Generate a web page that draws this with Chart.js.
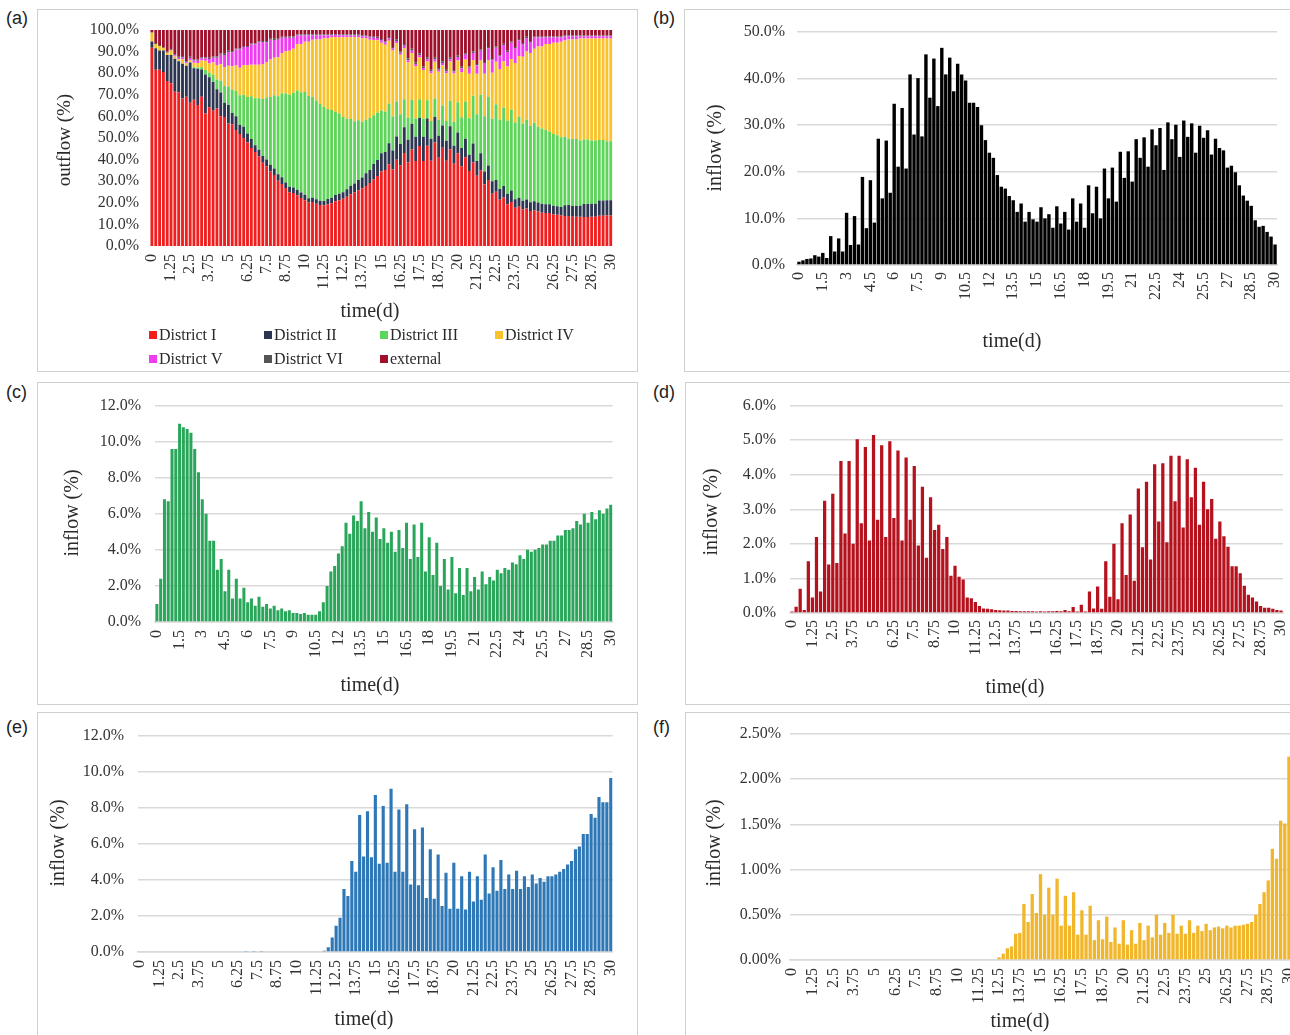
<!DOCTYPE html>
<html>
<head>
<meta charset="utf-8">
<script src="https://cdn.jsdelivr.net/npm/chart.js@4.4.1/dist/chart.umd.min.js"></script>
<style>
  html, body { margin: 0; padding: 0; background: #fff; }
  body { width: 1290px; height: 1035px; overflow: hidden; position: relative; }
  .frame { position: absolute; border: 1px solid #cfcfcf; box-sizing: border-box; }
  .tag { position: absolute; font-family: 'Liberation Sans', Arial, sans-serif; font-size: 18px; color: #222; line-height: 1; }
  canvas { position: absolute; }
</style>
</head>
<body>
<script>
// ---------- time axis (days, 6-hour steps) ----------
const timeSteps = [0,0.25,0.5,0.75,1,1.25,1.5,1.75,2,2.25,2.5,2.75,3,3.25,3.5,3.75,4,4.25,4.5,4.75,
  5,5.25,5.5,5.75,6,6.25,6.5,6.75,7,7.25,7.5,7.75,8,8.25,8.5,8.75,9,9.25,9.5,9.75,
  10,10.25,10.5,10.75,11,11.25,11.5,11.75,12,12.25,12.5,12.75,13,13.25,13.5,13.75,14,14.25,14.5,14.75,
  15,15.25,15.5,15.75,16,16.25,16.5,16.75,17,17.25,17.5,17.75,18,18.25,18.5,18.75,19,19.25,19.5,19.75,
  20,20.25,20.5,20.75,21,21.25,21.5,21.75,22,22.25,22.5,22.75,23,23.25,23.5,23.75,24,24.25,24.5,24.75,
  25,25.25,25.5,25.75,26,26.25,26.5,26.75,27,27.25,27.5,27.75,28,28.25,28.5,28.75,29,29.25,29.5,29.75,30];

// tick labels printed under the bars
const ticksQuarter = ['0','1.25','2.5','3.75','5','6.25','7.5','8.75','10','11.25','12.5','13.75','15',
  '16.25','17.5','18.75','20','21.25','22.5','23.75','25','26.25','27.5','28.75','30'];
const ticksHalf = ['0','1.5','3','4.5','6','7.5','9','10.5','12','13.5','15','16.5','18','19.5',
  '21','22.5','24','25.5','27','28.5','30'];

// ---------- (a) outflow shares by destination ----------
const districtI = [92,82,82,81,76,75,70,69,68,67, 64,65,62,66,58,60,56,57,55,54,
  53,52,50.5,49,47.5,45.5,43.7,42,40,38, 36,34,32,30,28,26,24.5,24,23,22,
  21,20,20,19.5,19,19,19.5,20,21,21, 22,23,24,25,26,27,28,29,30,31,
  33,34,35,36,37,38,40,41,41,42, 43,42,44,43,45,44,44,43,42,41,
  40,39,38,37,35,33,31,29,27,25, 23,22,21,20,19,18,17.5,17,16.5,16,
  16,15.5,15,15,15,14.5,14.5,14,14,14, 13.5,13.5,13.5,13.5,13.5,13.5,13.5,14,14,14,14];
const districtII = [3,10,9,10,12,13,15,14,16,14, 18,14,16,12,17,13,12,8,10,6,
  8,5,6,4,5,4,4,3,3,3, 3,3,3,3,3,2.5,2.5,2.5,2.5,2.5,
  2.5,2,2,2,2,2,2.5,2.5,3,3, 3,3.5,4,4,5,5,6,6,7,7,
  8,8,9,9,10,10,11,11,11,12, 12,12,12,11,11,11,10,10,10,9,
  9,9,8,8,8,7,7,6,6,6, 5,5,5,5,5,4,4,4,4,4,
  4,4,4,4,4,4,4,4,5,5, 5,5,5,6,6,6,6,7,7,7,7];
const districtIII = [0,0,0,0,0,0,0,0,0,0, 0,0.5,0.5,1,2,2,3,4,5,7,
  8,10,11,13,14,16,19,21,23,26, 28,31,33,36,38,40,42,43,45,46,
  47,47,46,45.5,45,44,42,41,39,37, 35,33,31,29,28,26,25,24,22,21,
  19,18,17,16,15,14,12,11,10,9, 8,9,8,9,8,8,9,10,11,12,
  13,15,16,18,20,22,24,26,28,30, 32,33,34,35,35,36,36,36,35,35,
  35,34,34,34,33,33,33,32,32,31, 31,31,30,30,30,29,29,28,28,27,27];
const districtIV = [4,2,2,1,1,2,1,1,2,1, 1,2,2,3,4,4,5,6,7,8,
  9,10,11,12,13,14,14,15,15,16, 16,17,17,18,18,19,20,20,21,22,
  23,25,26,28,30,32,33,34,35,35, 37,38,38,39,39,39,38,36,34,32,
  30,30,27,31,25,28,22,27,20,26, 18,24,17,24,16,24,18,24,17,24,
  18,22,18,22,15,19,14,20,15,22, 18,24,20,26,22,28,27,31,30,33,
  33,36,37,39,40,42,43,44,45,46, 46,46,47,47,47,47,47,47,47,47,47];
const districtV = [0,0,0,0,0,0,0.5,0.5,1,0.5, 1,1,1,1,1,2,2,3,4,5,
  6,6,7,8,8,8,9,9,10,10, 9,9,8,8,7,6,6,5,4,4,
  3,3,2,2,2,1.5,1.5,1,1,1, 1,1,1,1,1,1,1,1,1,1,
  1,1,1,1,1,1,1,1,1,1, 1,1,1,1,1,1,1,1,1,1,
  1.5,2,2,3,3,4,4,5,5,6, 6,6,7,7,7,7,7,6,6,5,
  5,4,4,3,3,2.5,2.5,2,2,1.5, 1.5,1.5,1,1,1,1,1,1,1,1,1];
const districtVI = [0.3,0.5,0.5,0.5,0.5,0.5,0.5,0.5,0.5,0.5, 0.5,0.5,0.5,0.5,0.5,0.5,0.5,0.5,0.5,0.5,
  0.5,0.5,0.5,0.5,0.5,0.5,0.5,0.5,0.5,0.5, 0.5,0.5,0.5,0.5,0.5,0.5,0.5,0.5,0.5,0.5,
  0.4,0.4,0.4,0.4,0.4,0.4,0.4,0.4,0.4,0.4, 0.4,0.4,0.4,0.4,0.4,0.4,0.4,0.5,0.5,0.5,
  0.6,0.6,0.6,0.7,0.7,0.7,0.8,0.8,0.8,0.8, 0.8,0.8,0.8,0.8,0.8,0.8,0.8,0.8,0.7,0.7,
  0.7,0.7,0.6,0.6,0.6,0.6,0.5,0.5,0.5,0.5, 0.5,0.5,0.5,0.5,0.5,0.5,0.5,0.5,0.5,0.5,
  0.4,0.4,0.4,0.4,0.4,0.4,0.4,0.4,0.4,0.4, 0.4,0.4,0.4,0.4,0.4,0.4,0.4,0.4,0.4,0.4,0.4];
const external = [1,6,7,8,10,9,11,12,12,14, 12,13,13,12,12,12,11,11,10,10,
  9,9,8,8,7,7,6,6,5,5, 5,4,4,4,3,3,3,3,2,2,
  2,2,2,2,2,2,2,2,2,2, 2,2,2,2,2,2.5,2.5,3,3,3,
  4,5,3,8,4,10,6,14,8,16, 10,18,12,20,12,19,14,20,12,20,
  11,18,10,18,9,16,8,15,7,14, 7,12,6,10,5,8,4,6,3,5,
  3,3,3,3,3,3,3,3,2.5,2.5, 2.5,2.5,2.5,2.5,2.5,2.5,2.5,2.5,2.5,2.5,2.5];

// ---------- (b)-(f) inflow series (%) ----------
const inflowB = [0.7,1.0,1.3,1.4,2.1,1.8,2.6,1.5,6.2,2.9, 5.7,2.9,11.2,4.3,10.5,4.4,18.9,7.9,18.2,9.1,
  27.1,14.3,26.7,15.5,34.6,21.1,33.7,20.7,40.9,28.0, 40.1,27.6,45.2,35.9,44.3,34.1,46.6,40.9,44.5,37.3,
  43.2,40.9,39.6,34.8,34.8,33.9,30.0,26.8,24.1,23.0, 19.3,16.8,16.4,14.8,13.9,11.4,13.2,9.3,11.4,9.8,
  9.3,12.4,10.0,10.9,8.0,12.6,8.9,11.4,7.6,14.3, 9.3,13.2,8.0,17.1,11.1,16.8,10.0,20.7,14.3,20.9,
  13.6,24.3,18.7,24.4,17.9,27.0,23.0,27.4,21.1,29.1, 25.7,29.4,20.4,30.6,27.0,30.1,23.2,31.0,27.5,30.4,
  24.1,29.9,27.3,28.9,23.7,27.1,25.1,24.6,20.9,21.3, 19.9,17.1,14.9,13.8,12.7,9.6,8.2,8.4,7.1,6.1,4.4];
const inflowC = [1.0,2.4,6.8,6.7,9.6,9.6,11.0,10.8,10.7,10.5, 9.6,8.3,6.8,6.0,4.5,4.5,2.9,3.5,1.7,2.9,
  1.3,2.4,1.3,1.9,1.1,1.3,0.9,1.4,0.85,1.0, 0.75,0.9,0.65,0.75,0.6,0.65,0.5,0.5,0.45,0.5,
  0.4,0.4,0.4,0.6,1.1,2.0,2.8,3.1,3.8,4.2, 5.5,4.9,5.9,5.6,6.7,5.2,6.1,5.0,5.8,4.6,
  5.2,4.4,5.0,3.9,5.1,4.1,5.5,3.5,5.4,3.6, 5.5,2.8,4.7,2.6,4.4,2.0,3.5,1.8,3.6,1.6,
  3.0,1.5,3.0,1.7,2.5,1.8,2.8,2.1,2.5,2.3, 2.9,2.7,3.0,2.9,3.3,3.2,3.7,3.5,4.0,3.9,
  4.0,4.1,4.3,4.3,4.5,4.5,4.8,4.8,5.1,5.1, 5.2,5.6,5.4,6.0,5.5,6.1,5.7,6.2,6.0,6.3,6.5];
const inflowD = [0.04,0.18,0.7,0.09,1.5,0.45,2.2,0.62,3.25,1.4, 3.45,1.45,4.4,2.3,4.4,2.0,5.03,2.6,4.8,2.1,
  5.15,2.7,4.85,2.2,4.97,2.75,4.7,2.1,4.5,2.7, 4.25,1.95,3.65,1.6,3.35,2.4,2.55,1.85,2.2,1.08,
  1.37,1.05,0.97,0.45,0.43,0.32,0.2,0.13,0.12,0.11, 0.09,0.08,0.07,0.07,0.06,0.06,0.05,0.05,0.05,0.05,
  0.04,0.05,0.04,0.05,0.05,0.06,0.05,0.09,0.05,0.17, 0.04,0.24,0.04,0.62,0.13,0.77,0.12,1.5,0.47,2.0,
  0.4,2.6,1.1,2.85,0.93,3.6,1.9,3.8,1.55,4.3, 2.65,4.33,2.05,4.55,3.23,4.55,2.47,4.45,3.35,4.2,
  2.55,3.8,3.0,3.3,2.15,2.65,2.22,1.92,1.35,1.35, 1.15,0.79,0.53,0.45,0.33,0.2,0.15,0.15,0.12,0.09,0.07];
const inflowE = [0,0,0,0,0,0,0,0,0,0, 0,0,0,0,0,0,0,0,0,0,
  0,0,0,0,0,0,0,0.05,0,0.05, 0,0.05,0,0,0,0,0,0,0,0,
  0,0,0,0,0,0,0,0.07,0.26,0.8, 1.45,1.9,3.5,3.1,5.05,4.45,7.6,5.3,7.8,5.25,
  8.7,4.9,8.1,4.95,9.05,4.45,7.9,4.45,8.2,3.75, 6.8,3.7,6.9,3.0,5.7,2.95,5.4,2.55,4.4,2.4,
  4.95,2.4,4.2,2.35,4.45,2.8,4.2,2.9,5.4,3.25, 4.7,3.4,5.1,3.5,4.3,3.5,4.5,3.5,4.2,3.6,
  4.3,3.8,4.1,3.9,4.2,4.2,4.3,4.45,4.6,4.85, 5.05,5.7,5.85,6.55,6.55,7.65,7.45,8.6,8.3,8.3,9.65];
const inflowF = [0,0,0,0,0,0,0,0,0,0, 0,0,0,0,0,0,0,0,0,0,
  0,0,0,0,0,0,0,0,0,0, 0,0,0,0,0,0,0,0,0,0,
  0,0,0,0,0,0,0,0,0,0, 0.03,0.07,0.13,0.15,0.29,0.3,0.62,0.42,0.73,0.52,
  0.95,0.5,0.8,0.5,0.9,0.38,0.71,0.38,0.75,0.28, 0.55,0.28,0.6,0.22,0.44,0.23,0.48,0.2,0.36,0.18,
  0.44,0.17,0.33,0.18,0.41,0.22,0.38,0.25,0.5,0.28, 0.41,0.3,0.5,0.29,0.38,0.29,0.44,0.3,0.38,0.32,
  0.4,0.33,0.36,0.37,0.35,0.38,0.36,0.38,0.38,0.39, 0.4,0.42,0.5,0.62,0.75,0.88,1.23,1.12,1.54,1.51,2.25];

// ---------- drawing helpers ----------
const SERIF = "'Liberation Serif','Times New Roman',serif";
const TICK_COLOR = '#333333';
const TEXT_COLOR = '#2a2a2a';
const TICK_SIZE = 16;

// draws axis captions and an optional grid legend in canvas coordinates
const captionPlugin = {
  id: 'captions',
  afterDraw(chart, args, opts) {
    const ctx = chart.ctx;
    (opts.items || []).forEach(it => {
      ctx.save();
      ctx.font = it.size + 'px ' + SERIF;
      ctx.fillStyle = TEXT_COLOR;
      ctx.textAlign = 'center';
      ctx.textBaseline = 'middle';
      ctx.translate(it.x, it.y);
      if (it.rotate) ctx.rotate(-Math.PI / 2);
      ctx.fillText(it.text, 0, 0);
      ctx.restore();
    });
    (opts.legend || []).forEach(it => {
      const ds = chart.data.datasets[it.index];
      ctx.save();
      ctx.fillStyle = ds.backgroundColor;
      ctx.fillRect(it.x, it.y - 4, 8, 8);
      ctx.font = '16px ' + SERIF;
      ctx.fillStyle = TEXT_COLOR;
      ctx.textAlign = 'left';
      ctx.textBaseline = 'middle';
      ctx.fillText(ds.label, it.x + 10, it.y + 1);
      ctx.restore();
    });
  }
};

function makePanel(spec) {
  const [bx, by, bw, bh] = spec.box;
  const [L, T, R, B] = spec.plot;

  const frame = document.createElement('div');
  frame.className = 'frame';
  frame.style.cssText = `left:${bx}px;top:${by}px;width:${bw}px;height:${bh}px;`;
  document.body.appendChild(frame);

  const tag = document.createElement('div');
  tag.className = 'tag';
  tag.textContent = spec.tag;
  tag.style.left = spec.tagPos[0] + 'px';
  tag.style.top = spec.tagPos[1] + 'px';
  document.body.appendChild(tag);

  const cv = document.createElement('canvas');
  cv.width = bw; cv.height = bh;
  cv.style.cssText = `left:${bx}px;top:${by}px;width:${bw}px;height:${bh}px;`;
  document.body.appendChild(cv);

  const shown = new Set(spec.shownTicks);
  const items = spec.captions.map(c => ({...c, x: c.x - bx, y: c.y - by}));
  const legend = (spec.legend || []).map(l => ({...l, x: l.x - bx, y: l.y - by}));

  new Chart(cv, {
    type: 'bar',
    data: { labels: timeSteps.map(String), datasets: spec.datasets },
    options: {
      responsive: false,
      animation: false,
      devicePixelRatio: 1,
      layout: { padding: { left: 0, top: T - by, right: bx + bw - R, bottom: 0 } },
      datasets: { bar: { categoryPercentage: 1, barPercentage: spec.barPct || 0.78 } },
      plugins: {
        legend: { display: false },
        tooltip: { enabled: false },
        captions: { items, legend }
      },
      scales: {
        x: {
          stacked: !!spec.stacked,
          grid: { display: false, drawTicks: false },
          border: { display: spec.xBorder !== false, color: '#d9d9d9', width: 1.5 },
          ticks: {
            autoSkip: false, minRotation: 90, maxRotation: 90, padding: spec.xPad,
            color: TICK_COLOR, font: { family: SERIF, size: TICK_SIZE },
            callback(v) { const s = this.getLabelForValue(v); return shown.has(s) ? s : ''; }
          },
          afterFit(s) { s.height = by + bh - B; }
        },
        y: {
          stacked: !!spec.stacked,
          min: 0, max: spec.yMax,
          grid: { display: spec.yGrid !== false, color: '#d9d9d9', lineWidth: 1.5, drawTicks: false },
          border: { display: false },
          ticks: {
            autoSkip: false,
            stepSize: spec.yStep, padding: spec.yPad,
            color: TICK_COLOR, font: { family: SERIF, size: TICK_SIZE },
            callback: spec.yFmt
          },
          afterFit(s) { s.width = L - bx; }
        }
      }
    },
    plugins: [captionPlugin]
  });
}

const pct1 = v => v.toFixed(1) + '%';
const pct2 = v => v.toFixed(2) + '%';

// (a) 100% stacked outflow shares
const outflowSeries = [
  ['District I', districtI, '#f01e1e'],
  ['District II', districtII, '#2c3650'],
  ['District III', districtIII, '#5fd45a'],
  ['District IV', districtIV, '#f8c22c'],
  ['District V', districtV, '#f03cf0'],
  ['District VI', districtVI, '#555555'],
  ['external', external, '#a0102c']
];
const totals = timeSteps.map((_, i) => outflowSeries.reduce((s, d) => s + d[1][i], 0));
const outflowSets = outflowSeries.map(([label, vals, color]) => ({
  label, backgroundColor: color,
  data: vals.map((v, i) => v / totals[i] * 100)
}));

makePanel({
  tag: '(a)', tagPos: [6, 9],
  box: [37, 9, 601, 363], plot: [150, 30, 627, 246],
  datasets: outflowSets, stacked: true, barPct: 0.75,
  yMax: 100, yStep: 10, yFmt: pct1, yPad: 11, xPad: 8, yGrid: false, xBorder: false,
  shownTicks: ticksQuarter,
  captions: [
    { text: 'time(d)', x: 370, y: 312, size: 20 },
    { text: 'outflow (%)', x: 65, y: 140, size: 19, rotate: true }
  ],
  legend: [
    { index: 0, x: 149, y: 335 }, { index: 1, x: 264, y: 335 },
    { index: 2, x: 380, y: 335 }, { index: 3, x: 495, y: 335 },
    { index: 4, x: 149, y: 359 }, { index: 5, x: 264, y: 359 },
    { index: 6, x: 380, y: 359 }
  ]
});

makePanel({
  tag: '(b)', tagPos: [653, 9],
  box: [684, 9, 640, 363], plot: [797, 32, 1277, 265],
  datasets: [{ label: 'inflow', data: inflowB, backgroundColor: '#000000' }], barPct: 0.86,
  yMax: 50, yStep: 10, yFmt: pct1, yPad: 12, xPad: 7,
  shownTicks: ticksHalf,
  captions: [
    { text: 'time(d)', x: 1012, y: 342, size: 20 },
    { text: 'inflow (%)', x: 716, y: 148, size: 20, rotate: true }
  ]
});

makePanel({
  tag: '(c)', tagPos: [6, 383],
  box: [37, 382, 601, 323], plot: [155, 404, 628, 622],
  datasets: [{ label: 'inflow', data: inflowC, backgroundColor: '#2aa65a' }], barPct: 0.8,
  yMax: 12, yStep: 2, yFmt: pct1, yPad: 14, xPad: 8,
  shownTicks: ticksHalf,
  captions: [
    { text: 'time(d)', x: 370, y: 686, size: 20 },
    { text: 'inflow (%)', x: 73, y: 513, size: 20, rotate: true }
  ]
});

makePanel({
  tag: '(d)', tagPos: [653, 383],
  box: [685, 382, 640, 323], plot: [790, 404, 1283, 613],
  datasets: [{ label: 'inflow', data: inflowD, backgroundColor: '#b5121e' }], barPct: 0.8,
  yMax: 6, yStep: 1, yFmt: pct1, yPad: 14, xPad: 7,
  shownTicks: ticksQuarter,
  captions: [
    { text: 'time(d)', x: 1015, y: 688, size: 20 },
    { text: 'inflow (%)', x: 712, y: 512, size: 20, rotate: true }
  ]
});

makePanel({
  tag: '(e)', tagPos: [6, 718],
  box: [37, 712, 601, 340], plot: [138, 735, 628, 952],
  datasets: [{ label: 'inflow', data: inflowE, backgroundColor: '#2e78b7' }], barPct: 0.8,
  yMax: 12, yStep: 2, yFmt: pct1, yPad: 14, xPad: 8,
  shownTicks: ticksQuarter,
  captions: [
    { text: 'time(d)', x: 364, y: 1020, size: 20 },
    { text: 'inflow (%)', x: 59, y: 843, size: 20, rotate: true }
  ]
});

makePanel({
  tag: '(f)', tagPos: [653, 718],
  box: [685, 712, 640, 340], plot: [790, 734, 1291, 960],
  datasets: [{ label: 'inflow', data: inflowF, backgroundColor: '#f2b62a' }], barPct: 0.8,
  yMax: 2.5, yStep: 0.5, yFmt: pct2, yPad: 9, xPad: 8,
  shownTicks: ticksQuarter,
  captions: [
    { text: 'time(d)', x: 1020, y: 1022, size: 20 },
    { text: 'inflow (%)', x: 715, y: 843, size: 20, rotate: true }
  ]
});
</script>
</body>
</html>
